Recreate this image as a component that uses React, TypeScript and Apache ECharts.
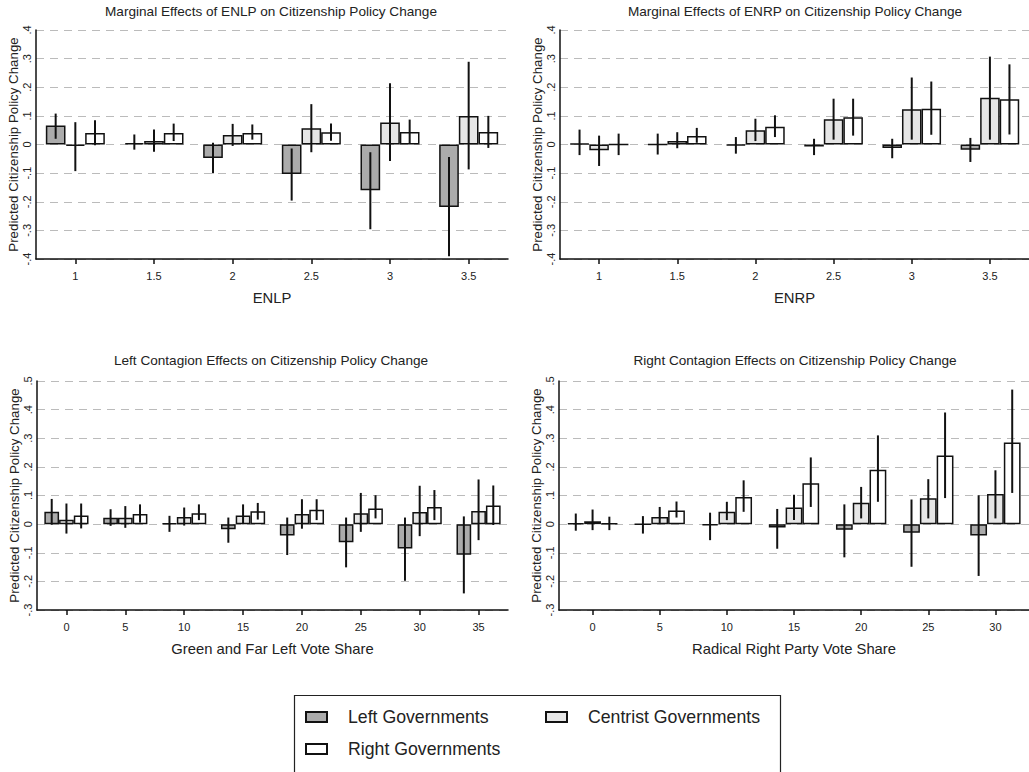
import React, { useEffect, useRef } from "react";
import * as echarts from "echarts";

// ---------- data ----------
const enlpCats = ["1", "1.5", "2", "2.5", "3", "3.5"];
const enlpLeft = [0.066, 0.005, -0.047, -0.103, -0.16, -0.218];
const enlpCentrist = [-0.005, 0.012, 0.033, 0.057, 0.077, 0.1];
const enlpRight = [0.04, 0.04, 0.04, 0.043, 0.044, 0.044];
const enlpLeftCI = [[0.02, 0.108], [-0.018, 0.035], [-0.1, 0.006], [-0.196, -0.014], [-0.296, -0.027], [-0.39, -0.044]];
const enlpCentristCI = [[-0.093, 0.078], [-0.025, 0.052], [-0.005, 0.072], [-0.027, 0.141], [-0.058, 0.214], [-0.087, 0.289]];
const enlpRightCI = [[-0.003, 0.085], [0.012, 0.073], [0.017, 0.07], [0.013, 0.073], [0.003, 0.087], [-0.012, 0.1]];

const enrpCats = ["1", "1.5", "2", "2.5", "3", "3.5"];
const enrpLeft = [0.003, 0.0, -0.003, -0.007, -0.012, -0.018];
const enrpCentrist = [-0.02, 0.012, 0.05, 0.088, 0.123, 0.163];
const enrpRight = [0.0, 0.03, 0.062, 0.095, 0.125, 0.158];
const enrpLeftCI = [[-0.037, 0.052], [-0.035, 0.038], [-0.032, 0.026], [-0.037, 0.02], [-0.048, 0.02], [-0.061, 0.023]];
const enrpCentristCI = [[-0.075, 0.031], [-0.013, 0.043], [0.012, 0.09], [0.017, 0.16], [0.017, 0.234], [0.017, 0.307]];
const enrpRightCI = [[-0.037, 0.038], [0.006, 0.058], [0.026, 0.102], [0.031, 0.16], [0.034, 0.22], [0.035, 0.28]];

const leftCats = ["0", "5", "10", "15", "20", "25", "30", "35"];
const leftLeft = [0.043, 0.022, 0.002, -0.018, -0.04, -0.063, -0.085, -0.107];
const leftCentrist = [0.015, 0.022, 0.025, 0.03, 0.035, 0.038, 0.042, 0.046];
const leftRight = [0.03, 0.035, 0.038, 0.045, 0.05, 0.055, 0.06, 0.065];
const leftLeftCI = [[-0.002, 0.088], [-0.006, 0.052], [-0.027, 0.029], [-0.065, 0.023], [-0.108, 0.023], [-0.151, 0.023], [-0.198, 0.023], [-0.242, 0.027]];
const leftCentristCI = [[-0.033, 0.072], [-0.013, 0.063], [-0.005, 0.058], [0.0, 0.069], [-0.016, 0.087], [-0.027, 0.109], [-0.042, 0.134], [-0.056, 0.156]];
const leftRightCI = [[-0.015, 0.072], [0.005, 0.069], [0.014, 0.069], [0.016, 0.074], [0.014, 0.087], [0.02, 0.101], [0.014, 0.119], [-0.003, 0.135]];

const rightCats = ["0", "5", "10", "15", "20", "25", "30"];
const rightLeft = [0.003, 0.0, -0.005, -0.012, -0.02, -0.03, -0.04];
const rightCentrist = [0.01, 0.025, 0.043, 0.058, 0.075, 0.09, 0.105];
const rightRight = [0.002, 0.048, 0.095, 0.143, 0.19, 0.24, 0.285];
const rightLeftCI = [[-0.023, 0.037], [-0.033, 0.028], [-0.056, 0.04], [-0.086, 0.053], [-0.116, 0.069], [-0.149, 0.086], [-0.181, 0.101]];
const rightCentristCI = [[-0.021, 0.051], [0.0, 0.06], [0.014, 0.078], [0.014, 0.103], [0.02, 0.13], [0.02, 0.157], [0.02, 0.188]];
const rightRightCI = [[-0.021, 0.026], [0.023, 0.079], [0.043, 0.153], [0.06, 0.233], [0.078, 0.31], [0.091, 0.39], [0.109, 0.47]];

const groupNames = ["Left Governments", "Centrist Governments", "Right Governments"];
const yNameText = "Predicted Citizenship Policy Change";

const panels = [
  { title: "Marginal Effects of ENLP on Citizenship Policy Change", xName: "ENLP", cats: enlpCats, vals: [enlpLeft, enlpCentrist, enlpRight], cis: [enlpLeftCI, enlpCentristCI, enlpRightCI], yMin: -0.4, yMax: 0.4, grid: { left: 36, top: 30, width: 472, height: 229 }, titleX: 271, titleY: 4 },
  { title: "Marginal Effects of ENRP on Citizenship Policy Change", xName: "ENRP", cats: enrpCats, vals: [enrpLeft, enrpCentrist, enrpRight], cis: [enrpLeftCI, enrpCentristCI, enrpRightCI], yMin: -0.4, yMax: 0.4, grid: { left: 560, top: 30, width: 472, height: 229 }, titleX: 795, titleY: 4 },
  { title: "Left Contagion Effects on Citizenship Policy Change", xName: "Green and Far Left Vote Share", cats: leftCats, vals: [leftLeft, leftCentrist, leftRight], cis: [leftLeftCI, leftCentristCI, leftRightCI], yMin: -0.3, yMax: 0.5, grid: { left: 37, top: 381, width: 471, height: 229 }, titleX: 271, titleY: 353 },
  { title: "Right Contagion Effects on Citizenship Policy Change", xName: "Radical Right Party Vote Share", cats: rightCats, vals: [rightLeft, rightCentrist, rightRight], cis: [rightLeftCI, rightCentristCI, rightRightCI], yMin: -0.3, yMax: 0.5, grid: { left: 559, top: 381, width: 471, height: 229 }, titleX: 795, titleY: 353 },
];

const fills = ["#ababab", "#e6e6e6", "#ffffff"];
const FONT = "Liberation Sans, Arial, sans-serif";
const CAT_GAP = 0.25;

function fmtY(v: number): string {
  const r = Math.round(v * 10) / 10;
  if (Math.abs(r) < 1e-9) return "0";
  const s = Math.abs(r).toFixed(1).replace(/^0/, "");
  return (r < 0 ? "-" : "") + s;
}

export default function App() {
  const ref = useRef<HTMLDivElement>(null);
  useEffect(() => {
    if (!ref.current) return;
    const chart = echarts.init(ref.current, null, { renderer: "svg" });

    const grids: any[] = [];
    const xAxes: any[] = [];
    const yAxes: any[] = [];
    const titles: any[] = [];
    const series: any[] = [];

    panels.forEach((p, pi) => {
      grids.push({ ...p.grid, containLabel: false });
      titles.push({
        text: p.title,
        left: p.titleX,
        top: p.titleY,
        padding: 0,
        textAlign: "center",
        textStyle: { fontFamily: FONT, fontSize: 13.6, fontWeight: "normal", color: "#222" },
      });
      xAxes.push({
        type: "category",
        gridIndex: pi,
        data: p.cats,
        boundaryGap: true,
        name: p.xName,
        nameLocation: "middle",
        nameGap: 31,
        nameTextStyle: { fontFamily: FONT, fontSize: 14.8, color: "#222" },
        axisLine: { show: true, onZero: false, lineStyle: { color: "#111", width: 1.5 } },
        axisTick: { show: true, alignWithLabel: true, length: 5, lineStyle: { color: "#111", width: 1.5 } },
        axisLabel: { fontFamily: FONT, fontSize: 11, color: "#222", margin: 11 },
        splitLine: { show: false },
      });
      yAxes.push({
        type: "value",
        gridIndex: pi,
        min: p.yMin,
        max: p.yMax,
        interval: 0.1,
        name: yNameText,
        nameLocation: "middle",
        nameRotate: 90,
        nameGap: 16,
        nameTextStyle: { fontFamily: FONT, fontSize: 13.3, color: "#222" },
        axisLine: { show: true, lineStyle: { color: "#111", width: 1.5 } },
        axisTick: { show: false },
        axisLabel: { rotate: 90, fontFamily: FONT, fontSize: 11, color: "#222", margin: 4, formatter: fmtY },
        splitLine: { show: true, lineStyle: { color: "#bbbbbb", type: [8, 6], width: 1 } },
      });
      p.vals.forEach((vals, gi) => {
        series.push({
          type: "bar",
          name: groupNames[gi],
          xAxisIndex: pi,
          yAxisIndex: pi,
          data: vals,
          barGap: "0%",
          barCategoryGap: CAT_GAP * 100 + "%",
          itemStyle: { color: fills[gi], borderColor: "#111", borderWidth: 1.5 },
          z: 2,
        });
      });
      p.cis.forEach((ci, gi) => {
        series.push({
          type: "custom",
          name: groupNames[gi] + " CI",
          xAxisIndex: pi,
          yAxisIndex: pi,
          data: ci.map((c, i) => [i, c[0], c[1]]),
          encode: { x: 0, y: [1, 2] },
          z: 5,
          silent: true,
          renderItem: (params: any, api: any) => {
            const c = api.value(0);
            const lo = api.coord([c, api.value(1)]);
            const hi = api.coord([c, api.value(2)]);
            const band = api.size([1, 0])[0];
            const bw = (band * (1 - CAT_GAP)) / 3;
            const off = (gi - 1) * bw;
            return {
              type: "line",
              shape: { x1: lo[0] + off, y1: lo[1], x2: hi[0] + off, y2: hi[1] },
              style: { stroke: "#111", lineWidth: 2 },
            };
          },
        });
      });
    });

    const legendBase = {
      orient: "horizontal",
      itemWidth: 21,
      itemHeight: 10,
      icon: "rect",
      textStyle: { fontFamily: FONT, fontSize: 17.7, color: "#222", padding: [0, 0, 0, 16] },
      selectedMode: false,
    };

    chart.setOption({
      animation: false,
      backgroundColor: "#ffffff",
      title: titles,
      grid: grids,
      xAxis: xAxes,
      yAxis: yAxes,
      series,
      legend: [
        { ...legendBase, data: [groupNames[0]], left: 300, top: 703 },
        { ...legendBase, data: [groupNames[1]], left: 540, top: 703 },
        { ...legendBase, data: [groupNames[2]], left: 300, top: 735 },
      ],
      graphic: [
        {
          type: "rect",
          left: 292,
          top: 693,
          shape: { width: 486, height: 77 },
          style: { fill: "none", stroke: "#222", lineWidth: 1.2 },
          silent: true,
        },
      ],
    });
    return () => chart.dispose();
  }, []);
  return <div ref={ref} style={{ position: "fixed", left: 0, top: 0, width: 1029, height: 772 }} />;
}
